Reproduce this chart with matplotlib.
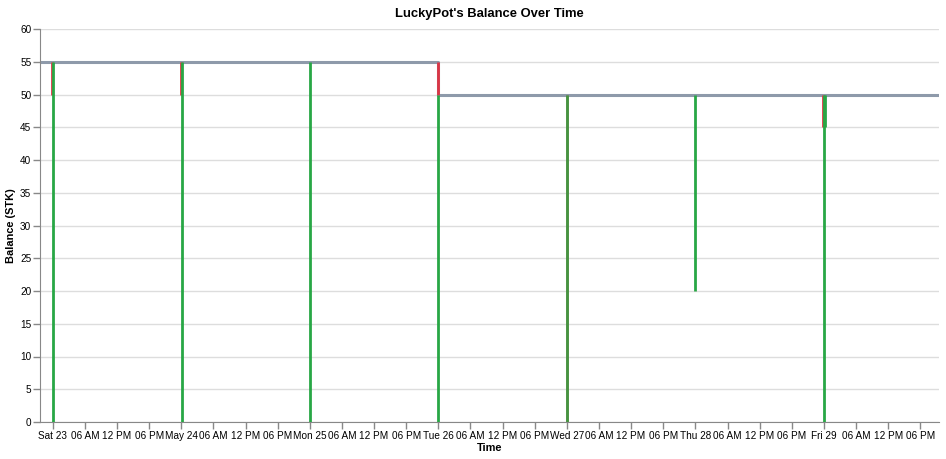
"""LuckyPot balance over time: step line of the pot balance plus win/loss rules."""
from datetime import datetime, timedelta

import matplotlib
matplotlib.use("Agg")
import matplotlib.pyplot as plt  # noqa: E402
import matplotlib.dates as mdates  # noqa: E402
from matplotlib.ticker import FuncFormatter, MultipleLocator  # noqa: E402

BASE = datetime(2020, 5, 23)

# balance line: hours from Sat 23 00:00, balance in STK
balance_hours = [-2.4, 72.0, 72.0, 165.5]
balance_values = [55, 55, 50, 50]

# win / loss rules: hour, low, high, kind
rule_hours = [-0.1, 0.1, 24.0, 24.03, 48.0, 72.0, 72.0, 96.0, 96.0, 120.0, 143.88, 144.0, 144.15]
rule_lows = [50, 0, 50, 0, 0, 50, 0, 0, 0, 20, 45, 0, 45]
rule_highs = [55, 55, 55, 55, 55, 55, 50, 50, 50, 50, 50, 50, 50]
rule_kinds = ["loss", "win", "loss", "win", "win", "loss", "win", "loss", "win", "win",
              "loss", "win", "win"]

GREEN = "#28a745"
RED = "#dc3545"
GREY = "#8e9aaa"


def to_dt(h):
    return BASE + timedelta(hours=h)


def tick_label(x, pos=None):
    d = mdates.num2date(x)
    if d.hour == 0:
        if d.weekday() == 6:
            return d.strftime("%b %d")
        return d.strftime("%a %d")
    return d.strftime("%I %p")


def main():
    plt.rcParams["font.family"] = ["Liberation Sans", "DejaVu Sans"]
    fig = plt.figure(figsize=(9.46, 4.59), dpi=100)
    ax = fig.add_axes([40 / 946, 37 / 459, 899 / 946, 393 / 459])

    for h, lo, hi, kind in zip(rule_hours, rule_lows, rule_highs, rule_kinds):
        t = to_dt(h)
        if kind == "win":
            ax.vlines(t, lo, hi, color=GREEN, lw=2, zorder=3,
                      alpha=0.7 if h == 96.0 else 1)
        else:
            ax.vlines(t, lo, hi, color=RED if h != 96.0 else "#8a6a3a", lw=2, zorder=2.5)

    ax.plot([to_dt(h) for h in balance_hours], balance_values, color=GREY, lw=2.2,
            zorder=2.4, solid_capstyle="butt")

    ax.set_xlim(to_dt(balance_hours[0]), to_dt(balance_hours[-1]))
    ax.set_ylim(0, 60)
    ax.yaxis.set_major_locator(MultipleLocator(5))
    ax.xaxis.set_major_locator(mdates.HourLocator(byhour=[0, 6, 12, 18]))
    ax.xaxis.set_major_formatter(FuncFormatter(tick_label))

    ax.grid(axis="y", color="#dddddd", lw=1)
    ax.set_axisbelow(True)
    for side in ("top", "right"):
        ax.spines[side].set_visible(False)
    for side in ("left", "bottom"):
        ax.spines[side].set_color("#888888")
    ax.tick_params(axis="both", colors="#888888", labelcolor="#000000", labelsize=7.2,
                   length=5, width=1, pad=1.2)

    ax.set_ylabel("Balance (STK)", fontsize=7.9, fontweight="bold", labelpad=3)
    ax.set_xlabel("Time", fontsize=7.9, fontweight="bold", labelpad=2)
    ax.set_title("LuckyPot's Balance Over Time", fontsize=9.4, fontweight="bold", pad=9)

    fig.savefig("out.png", dpi=100)
    plt.close(fig)


if __name__ == "__main__":
    main()
